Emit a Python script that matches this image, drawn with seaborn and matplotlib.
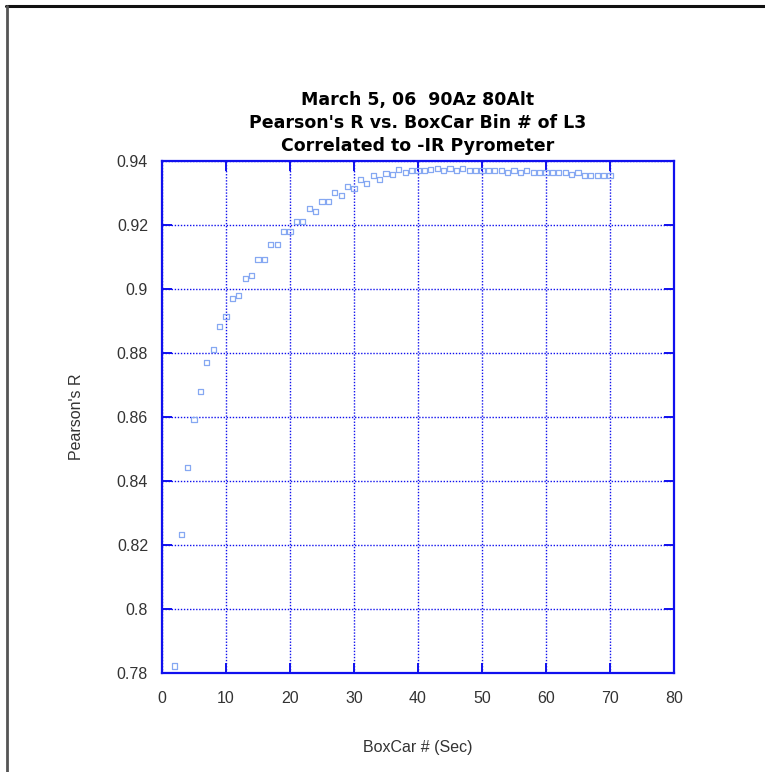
import matplotlib
matplotlib.use("Agg")
import matplotlib.pyplot as plt
from matplotlib.lines import Line2D
import seaborn as sns
import pandas as pd

# Boxcar bin width (seconds) and the resulting Pearson correlation
bin_sec = list(range(2, 71))
pearson_r = [
    0.7821, 0.8231, 0.8441, 0.8592, 0.8680, 0.8769, 0.8811, 0.8881, 0.8913,  # 2-10
    0.8970, 0.8978, 0.9033, 0.9041, 0.9091, 0.9091, 0.9139, 0.9139, 0.9178, 0.9178,  # 11-20
    0.9211, 0.9211, 0.9250, 0.9241, 0.9272, 0.9272, 0.9300, 0.9291, 0.9320, 0.9314,  # 21-30
    0.9340, 0.9329, 0.9353, 0.9340, 0.9361, 0.9358, 0.9372, 0.9364, 0.9369, 0.9369,  # 31-40
    0.9369, 0.9372, 0.9376, 0.9370, 0.9376, 0.9370, 0.9376, 0.9370, 0.9370, 0.9370,  # 41-50
    0.9370, 0.9370, 0.9370, 0.9364, 0.9370, 0.9364, 0.9370, 0.9364, 0.9364, 0.9364,  # 51-60
    0.9364, 0.9364, 0.9364, 0.9358, 0.9364, 0.9355, 0.9355, 0.9355, 0.9355, 0.9355,  # 61-70
]

x_ticks = [0, 10, 20, 30, 40, 50, 60, 70, 80]
y_ticks = [0.78, 0.80, 0.82, 0.84, 0.86, 0.88, 0.90, 0.92, 0.94]
y_tick_labels = ["0.78", "0.8", "0.82", "0.84", "0.86", "0.88", "0.9", "0.92", "0.94"]

title_lines = [
    "March 5, 06  90Az 80Alt",
    "Pearson's R vs. BoxCar Bin # of L3",
    "Correlated to -IR Pyrometer",
]

df = pd.DataFrame({"bin": bin_sec, "r": pearson_r})

sns.set_theme(style="white")
plt.rcParams["font.family"] = ["Liberation Sans", "DejaVu Sans"]

BLUE = "#1010ee"
fig = plt.figure(figsize=(7.65, 7.72), dpi=100, facecolor="white")
ax = fig.add_axes([162 / 765, (772 - 672.7) / 772, 512 / 765, 512 / 772])

sns.scatterplot(
    data=df, x="bin", y="r", ax=ax, marker="s", s=14,
    facecolors="none", edgecolor="#86a8f2", linewidth=0.9, zorder=3,
)

ax.set_xlim(0, 80)
ax.set_ylim(0.78, 0.94)
ax.set_xticks(x_ticks)
ax.set_yticks(y_ticks)
ax.set_yticklabels(y_tick_labels)

ax.grid(True, color=BLUE, linestyle=(0, (1, 1.2)), linewidth=1.0)
for sp in ax.spines.values():
    sp.set_color(BLUE)
    sp.set_linewidth(1.6)

ax.tick_params(axis="both", which="major", direction="in", length=7, width=1.4,
               color=BLUE, labelsize=11.5, labelcolor="#333333",
               top=True, right=True, left=True, bottom=True)
ax.tick_params(axis="y", pad=10)
ax.tick_params(axis="x", pad=13)

ax.set_xlabel("BoxCar # (Sec)", fontsize=11.5, color="#333333", labelpad=25)
ax.set_ylabel("Pearson's R", fontsize=11.5, color="#333333", labelpad=23.5)

ax.set_title("\n".join(title_lines), fontsize=12.5, fontweight="bold",
             family="DejaVu Sans", color="black", linespacing=1.36, pad=7)

# Frame lines along the top and left edges of the image
fig.add_artist(Line2D([6 / 765, 1.0], [1 - 6 / 772, 1 - 6 / 772],
                      transform=fig.transFigure, color="#111111", linewidth=2.2))
fig.add_artist(Line2D([7 / 765, 7 / 765], [0, 1 - 6 / 772],
                      transform=fig.transFigure, color="#555555", linewidth=2.0))

fig.savefig("out.png", dpi=100, facecolor="white")
